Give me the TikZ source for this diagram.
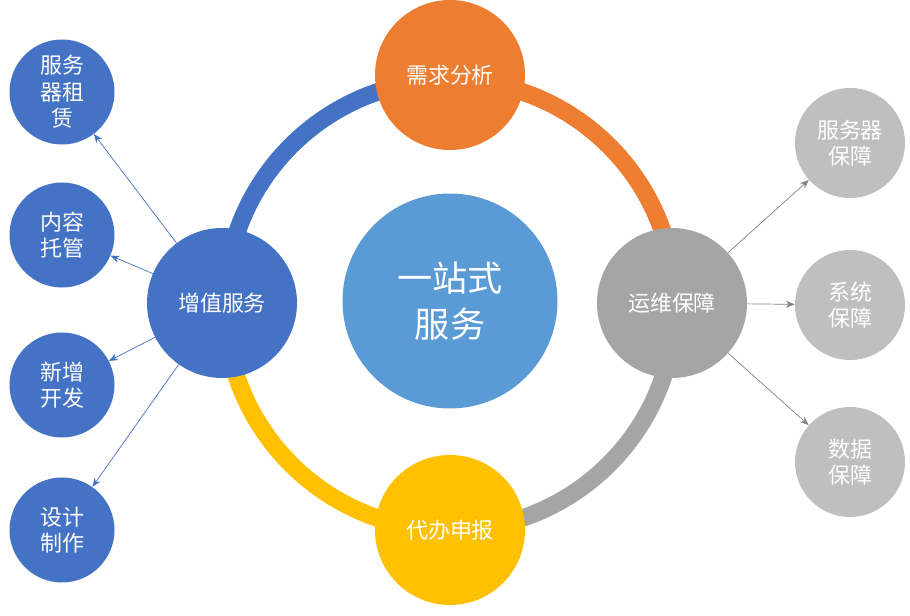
\documentclass[tikz,border=0pt]{standalone}
\usepackage{fontspec}
\setmainfont{Noto Sans CJK SC}
\usetikzlibrary{arrows.meta}

\definecolor{cblue}{HTML}{4472C4}
\definecolor{corange}{HTML}{ED7D31}
\definecolor{cgray}{HTML}{A5A5A5}
\definecolor{cyellow}{HTML}{FFC000}
\definecolor{ccenter}{HTML}{5B9BD5}
\definecolor{clight}{HTML}{BFBFBF}

\tikzset{
  hub/.style={circle, minimum size=3cm, inner sep=0pt, text=white, font=\fontsize{12.5}{15}\selectfont},
  leaf/.style={circle, minimum size=2.1cm, inner sep=0pt, text=white, fill=cblue, align=center, font=\fontsize{12.5}{15}\selectfont},
  rleaf/.style={leaf, fill=clight, minimum size=2.2cm},
  arr/.style={-{Stealth[length=5pt,width=4pt]}, thin}
}

\begin{document}
\begin{tikzpicture}
\useasboundingbox (0,0) rectangle (18.2,12.32);

% ring
\draw[cblue, line width=10pt] (4.5,6.22) arc (180:90:4.5);
\draw[corange, line width=10pt] (9,10.72) arc (90:0:4.5);
\draw[cgray, line width=10pt] (13.5,6.22) arc (0:-90:4.5);
\draw[cyellow, line width=10pt] (9,1.72) arc (-90:-180:4.5);

\node[circle, minimum size=4.3cm, fill=ccenter, text=white, align=center,
  font=\fontsize{20}{26}\selectfont] (core) at (9,6.3) {一站式\\服务};

\node[hub, fill=corange] (need) at (9,10.82) {需求分析};
\node[hub, fill=cblue] (grow) at (4.44,6.26) {增值服务};
\node[hub, fill=cgray] (ops) at (13.44,6.26) {运维保障};
\node[hub, fill=cyellow] (proxy) at (9,1.72) {代办申报};

% left leaves
\node[leaf] (l1) at (1.24,10.48) {服务\\器租\\赁};
\node[leaf] (l2) at (1.24,7.62) {内容\\托管};
\node[leaf] (l3) at (1.24,4.62) {新增\\开发};
\node[leaf] (l4) at (1.24,1.72) {设计\\制作};

% right leaves
\node[rleaf] (r1) at (17,9.46) {服务器\\保障};
\node[rleaf] (r2) at (17,6.22) {系统\\保障};
\node[rleaf] (r3) at (17,3.08) {数据\\保障};

\foreach \n in {l1,l2,l3,l4}
  \draw[arr, cblue] (grow) -- (\n);
\foreach \n in {r1,r2,r3}
  \draw[arr, cgray!80!black] (ops) -- (\n);

\end{tikzpicture}
\end{document}
